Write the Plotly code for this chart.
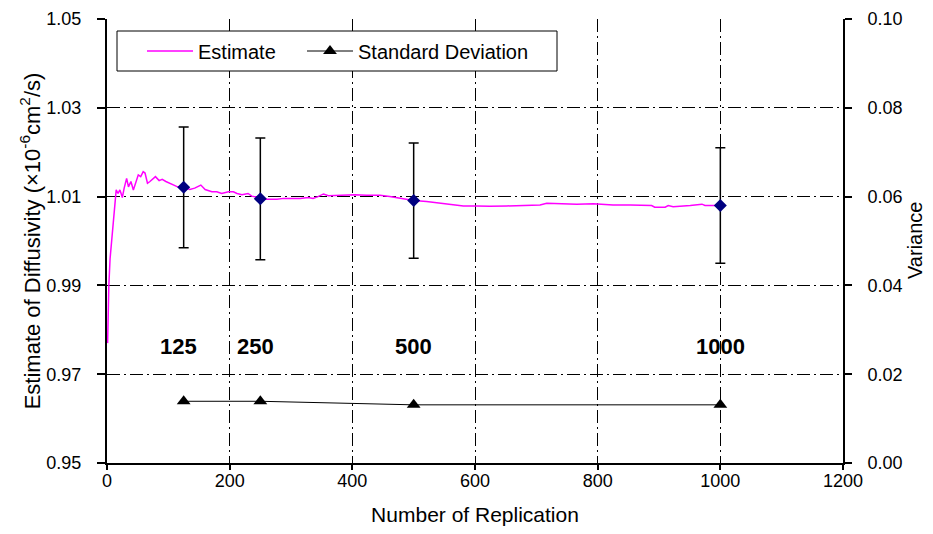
import plotly.graph_objects as go

# Running estimate of diffusivity vs number of replications
rep = [1, 2, 3, 5, 7, 10, 13, 15, 18, 21, 23, 25, 28, 32, 35, 39, 43, 47, 51, 55,
       59, 62, 66, 70, 75, 79, 85, 90, 96, 104, 109, 115, 125, 135, 143, 153, 160,
       171, 179, 187, 198, 206, 212, 220, 230, 236, 250, 260, 277, 288, 304, 315,
       328, 336, 344, 353, 361, 380, 404, 423, 445, 461, 478, 500, 521, 538, 554,
       570, 581, 603, 624, 652, 679, 706, 717, 739, 766, 793, 809, 825, 853, 888,
       893, 910, 915, 923, 951, 970, 975, 1000]
estimate = [0.977, 0.985, 0.990, 0.996, 0.999, 1.003, 1.009, 1.0115, 1.0107, 1.0115,
            1.0107, 1.0098, 1.0119, 1.0141, 1.0122, 1.0134, 1.0115, 1.0134, 1.0149,
            1.0145, 1.0156, 1.0153, 1.0130, 1.0134, 1.0141, 1.0145, 1.0136, 1.0139,
            1.0134, 1.0130, 1.0126, 1.0122, 1.0121, 1.0116, 1.0119, 1.0126, 1.0116,
            1.0111, 1.0111, 1.0107, 1.0111, 1.0111, 1.0107, 1.0104, 1.0107, 1.0101,
            1.0096, 1.0094, 1.0094, 1.0096, 1.0096, 1.0096, 1.0098, 1.0096, 1.0100,
            1.0106, 1.0102, 1.0103, 1.0104, 1.0103, 1.0103, 1.0100, 1.0096, 1.0091,
            1.0089, 1.0086, 1.0083, 1.0081, 1.0079, 1.0079, 1.0078, 1.0079, 1.0080,
            1.0081, 1.0085, 1.0084, 1.0083, 1.0084, 1.0083, 1.0081, 1.0081, 1.0080,
            1.0076, 1.0076, 1.0080, 1.0077, 1.0080, 1.0083, 1.0080, 1.0080]

# Checkpoints with mean and error bar (± standard deviation)
check_n = [125, 250, 500, 1000]
check_mean = [1.0121, 1.0095, 1.0091, 1.0080]
check_err = [0.0136, 0.0137, 0.0130, 0.0130]
check_labels = ["125", "250", "500", "1000"]

# Standard deviation on the right (Variance) axis
sd_vals = [0.0139, 0.0139, 0.0131, 0.0131]

x_ticks = [0, 200, 400, 600, 800, 1000, 1200]
y_ticks = [0.95, 0.97, 0.99, 1.01, 1.03, 1.05]
y2_ticks = [0.00, 0.02, 0.04, 0.06, 0.08, 0.10]

FONT = "Liberation Sans, Arial, sans-serif"
GRID_DASH = "13px,4px,2px,4px"

# page body has an 8px margin: figure is sized so the page fits the 933x534 window
W, H = 917, 518
PW, PH = 736, 444  # plot area size

fig = go.Figure()

fig.add_trace(go.Scatter(
    x=rep, y=estimate, mode="lines", name="Estimate",
    line=dict(color="#FF00FF", width=1.5), legend="legend",
))

fig.add_trace(go.Scatter(
    x=check_n, y=check_mean, mode="markers", showlegend=False,
    marker=dict(symbol="diamond", color="#000080", size=10),
    error_y=dict(type="data", array=check_err, visible=True,
                 color="black", thickness=1.5, width=5),
))

fig.add_trace(go.Scatter(
    x=check_n, y=sd_vals, mode="lines+markers", name="Standard Deviation",
    yaxis="y2", legend="legend2",
    line=dict(color="black", width=1),
    marker=dict(symbol="triangle-up", color="black", size=12),
))

for xv, lab in zip(check_n, check_labels):
    fig.add_annotation(
        x=xv, y=0.9762, xref="x", yref="y", text="<b>" + lab + "</b>",
        showarrow=False, font=dict(family=FONT, size=22, color="black"),
        xshift=-5 if xv < 300 else 0,
    )

# right axis title
fig.add_annotation(
    x=1.0, y=0.5, xref="paper", yref="paper", text="Variance", textangle=-90,
    showarrow=False, xanchor="center", yanchor="middle", xshift=72,
    font=dict(family=FONT, size=20, color="black"),
)

# legend frame (white box with black border)
fig.add_shape(type="rect", xref="paper", yref="paper",
              x0=10 / PW, x1=450 / PW, y0=(PH - 52) / PH, y1=(PH - 12) / PH,
              fillcolor="white", line=dict(color="black", width=1), layer="above")

leg_common = dict(
    orientation="h", yanchor="middle", xanchor="left", y=(PH - 32) / PH,
    bgcolor="rgba(0,0,0,0)", borderwidth=0,
    font=dict(family=FONT, size=20, color="black"), itemwidth=46,
)

fig.update_layout(
    width=W, height=H,
    margin=dict(l=99, r=W - 99 - PW, t=11, b=H - 11 - PH, autoexpand=False),
    paper_bgcolor="white", plot_bgcolor="white",
    font=dict(family=FONT, size=18, color="black"),
    showlegend=True,
    legend=dict(x=35 / PW, **leg_common),
    legend2=dict(x=195 / PW, **leg_common),
    xaxis=dict(
        range=[0, 1200], tickvals=x_ticks, ticktext=[str(v) for v in x_ticks],
        showline=True, linecolor="black", linewidth=2,
        ticks="outside", ticklen=5, tickcolor="black", tickwidth=1.5,
        ticklabelstandoff=-5,
        showgrid=True, gridcolor="black", gridwidth=1, griddash=GRID_DASH,
        zeroline=False, automargin=False,
        title=dict(text="Number of Replication", font=dict(size=21), standoff=24),
        tickfont=dict(size=18),
    ),
    yaxis=dict(
        range=[0.95, 1.05], tickvals=y_ticks, ticktext=[f"{v:.2f}" for v in y_ticks],
        showline=True, linecolor="black", linewidth=2,
        ticks="outside", ticklen=8, tickcolor="black", tickwidth=1.5,
        ticklabelstandoff=12, automargin=False,
        showgrid=True, gridcolor="black", gridwidth=1, griddash=GRID_DASH,
        zeroline=False,
        title=dict(text="Estimate of Diffusivity (×10<sup>-6</sup>cm<sup>2</sup>/s)",
                   font=dict(size=22), standoff=0),
        tickfont=dict(size=18),
    ),
    yaxis2=dict(
        range=[0, 0.10], tickvals=y2_ticks, ticktext=[f"{v:.2f}" for v in y2_ticks],
        overlaying="y", side="right",
        showline=True, linecolor="black", linewidth=2,
        ticks="outside", ticklen=7, tickcolor="black", tickwidth=1.5,
        ticklabelstandoff=12, automargin=False,
        showgrid=False, zeroline=False,
        tickfont=dict(size=18),
    ),
)

fig.write_html("out.html")
